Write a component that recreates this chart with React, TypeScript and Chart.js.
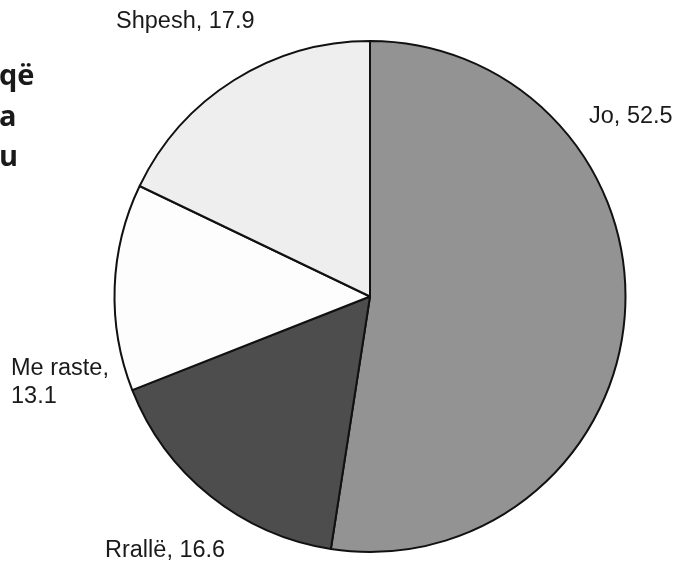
import React, { useEffect, useRef } from "react";
import { Chart, registerables } from "chart.js";

Chart.register(...registerables);

const categories = ["Jo", "Rrallë", "Me raste", "Shpesh"];
const values = [52.5, 16.6, 13.1, 17.9];
const sliceColors = ["#939393", "#4d4d4d", "#fdfdfd", "#eeeeee"];
const titleFragments = ["që", "a", "u"];

// label layout: [x, y, align] per category (lines split by \n)
const labelTexts = ["Jo, 52.5", "Rrallë, 16.6", "Me raste,\n13.1", "Shpesh, 17.9"];
const labelLayout: [number, number, CanvasTextAlign][] = [
  [589, 117, "left"],
  [105, 551, "left"],
  [11, 369, "left"],
  [116, 22, "left"],
];

const labelPlugin = {
  id: "sliceLabels",
  afterDraw(chart: any) {
    const ctx = chart.ctx;
    ctx.save();
    ctx.fillStyle = "#1a1a1a";
    ctx.font = '23.5px "Liberation Sans", Arial, sans-serif';
    ctx.textBaseline = "middle";
    labelTexts.forEach((t, i) => {
      const [x, y, align] = labelLayout[i];
      ctx.textAlign = align;
      t.split("\n").forEach((line, j) => {
        ctx.fillText(line, x, y + j * 28);
      });
    });
    ctx.restore();
  },
};

export default function App() {
  const ref = useRef<HTMLCanvasElement | null>(null);
  useEffect(() => {
    if (!ref.current) return;
    const chart = new Chart(ref.current, {
      type: "pie",
      data: {
        labels: categories,
        datasets: [
          {
            data: values,
            backgroundColor: sliceColors,
            borderColor: "#111111",
            borderWidth: 2,
          },
        ],
      },
      options: {
        responsive: false,
        animation: false,
        layout: { padding: { left: 113, top: 40, right: 49, bottom: 8 } },
        plugins: {
          legend: { display: false },
          tooltip: { enabled: false },
          title: { display: false },
        },
      },
      plugins: [labelPlugin],
    });
    return () => chart.destroy();
  }, []);

  return (
    <div style={{ position: "fixed", left: 0, top: 0, width: 676, height: 561, background: "#fff", overflow: "hidden" }}>
      <canvas ref={ref} width={676} height={561} style={{ position: "absolute", left: 0, top: 0 }} />
      <div
        style={{
          position: "absolute",
          left: -1,
          top: 54,
          fontFamily: '"Open Sans", sans-serif',
          fontWeight: 700,
          fontSize: 29,
          lineHeight: "40.5px",
          color: "#1a1a1a",
        }}
      >
        {titleFragments.map((t, i) => (
          <div key={i}>{t}</div>
        ))}
      </div>
    </div>
  );
}
